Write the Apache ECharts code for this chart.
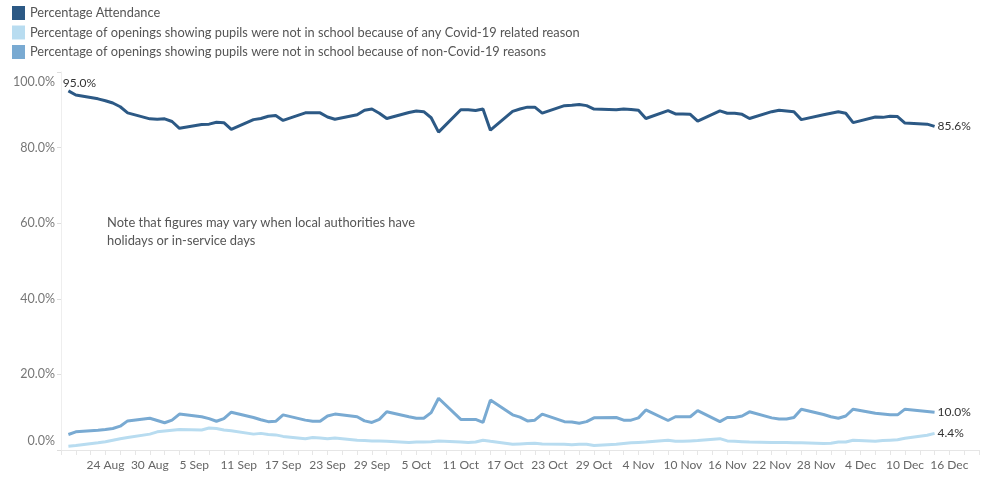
<!DOCTYPE html>
<html>
<head>
<meta charset="utf-8">
<script src="https://cdn.jsdelivr.net/npm/echarts@6/dist/echarts.min.js"></script>
<style>
  html, body { margin: 0; padding: 0; background: #ffffff; }
  #chart { width: 982px; height: 477px; }
</style>
</head>
<body>
<div id="chart"></div>
<script>
// school days (2021), one value per day for each series
const dates = [
  '2021-08-19', '2021-08-20',
  '2021-08-23', '2021-08-24', '2021-08-25', '2021-08-26', '2021-08-27',
  '2021-08-30', '2021-08-31', '2021-09-01', '2021-09-02', '2021-09-03',
  '2021-09-06', '2021-09-07', '2021-09-08', '2021-09-09', '2021-09-10',
  '2021-09-13', '2021-09-14', '2021-09-15', '2021-09-16', '2021-09-17',
  '2021-09-20', '2021-09-21', '2021-09-22', '2021-09-23', '2021-09-24',
  '2021-09-27', '2021-09-28', '2021-09-29', '2021-09-30', '2021-10-01',
  '2021-10-04', '2021-10-05', '2021-10-06', '2021-10-07', '2021-10-08',
  '2021-10-11', '2021-10-12', '2021-10-13', '2021-10-14', '2021-10-15',
  '2021-10-18', '2021-10-19', '2021-10-20', '2021-10-21', '2021-10-22',
  '2021-10-25', '2021-10-26', '2021-10-27', '2021-10-28', '2021-10-29',
  '2021-11-01', '2021-11-02', '2021-11-03', '2021-11-04', '2021-11-05',
  '2021-11-08', '2021-11-09', '2021-11-10', '2021-11-11', '2021-11-12',
  '2021-11-15', '2021-11-16', '2021-11-17', '2021-11-18', '2021-11-19',
  '2021-11-22', '2021-11-23', '2021-11-24', '2021-11-25', '2021-11-26',
  '2021-11-29', '2021-11-30', '2021-12-01', '2021-12-02', '2021-12-03',
  '2021-12-06', '2021-12-07', '2021-12-08', '2021-12-09', '2021-12-10',
  '2021-12-13', '2021-12-14'
]

const attendance = [
  95.0, 93.9,
  92.9, 92.4, 91.8, 90.8, 89.2,
  87.6, 87.5, 87.6, 86.9, 85.1,
  86.1, 86.2, 86.7, 86.6, 84.8,
  87.4, 87.7, 88.3, 88.5, 87.2,
  89.2, 89.2, 89.2, 88.1, 87.5,
  88.7, 89.9, 90.2, 89.1, 87.7,
  89.3, 89.7, 89.5, 87.9, 84.1,
  90.0, 90.0, 89.8, 90.2, 84.6,
  89.6, 90.2, 90.7, 90.7, 89.1,
  91.1, 91.2, 91.4, 91.1, 90.2,
  90.0, 90.2, 90.1, 89.9, 87.7,
  89.8, 88.9, 88.9, 88.8, 87.0,
  89.7, 89.1, 89.1, 88.8, 87.7,
  89.5, 89.9, 89.7, 89.5, 87.4,
  88.7, 89.1, 89.5, 89.1, 86.6,
  88.1, 88.0, 88.3, 88.2, 86.5,
  86.2, 85.6
]

const covidAbsence = [
  1.0, 1.2,
  1.9, 2.2, 2.6, 3.0, 3.3,
  4.2, 4.8, 5.0, 5.2, 5.4,
  5.3, 5.8, 5.7, 5.3, 5.1,
  4.2, 4.4, 4.1, 4.0, 3.6,
  3.0, 3.3, 3.2, 3.0, 3.2,
  2.6, 2.5, 2.4, 2.4, 2.3,
  2.0, 2.1, 2.1, 2.2, 2.4,
  2.1, 2.0, 2.1, 2.6, 2.3,
  1.5, 1.6, 1.7, 1.8, 1.6,
  1.5, 1.4, 1.5, 1.5, 1.2,
  1.5, 1.7, 1.9, 2.0, 2.1,
  2.6, 2.3, 2.3, 2.4, 2.5,
  3.0, 2.4, 2.3, 2.2, 2.1,
  2.0, 2.0, 2.0, 1.9, 1.9,
  1.7, 1.8, 2.1, 2.1, 2.6,
  2.3, 2.5, 2.6, 2.7, 3.1,
  3.9, 4.4
]

const nonCovidAbsence = [
  4.1, 4.8,
  5.2, 5.4, 5.7, 6.3, 7.7,
  8.4, 7.8, 7.2, 7.9, 9.5,
  8.8, 8.3, 7.6, 8.3, 10.0,
  8.6, 8.0, 7.5, 7.6, 9.3,
  7.9, 7.6, 7.6, 9.0, 9.5,
  8.8, 7.7, 7.3, 8.1, 10.1,
  8.8, 8.4, 8.4, 9.9, 13.7,
  8.1, 8.1, 8.1, 7.3, 13.2,
  9.3, 8.7, 7.7, 7.9, 9.5,
  7.5, 7.4, 7.1, 7.5, 8.5,
  8.6, 7.9, 7.9, 8.5, 10.6,
  7.8, 8.8, 8.8, 8.8, 10.4,
  7.5, 8.6, 8.6, 9.0, 10.1,
  8.5, 8.2, 8.2, 8.6, 10.8,
  9.4, 8.8, 8.4, 9.0, 10.8,
  9.7, 9.5, 9.3, 9.3, 10.8,
  10.2, 10.0
]

const seriesNames = [
  'Percentage Attendance',
  'Percentage of openings showing pupils were not in school because of any Covid-19 related reason',
  'Percentage of openings showing pupils were not in school because of non-Covid-19 reasons'
]
const seriesColors = ['#2c5985', '#b8dcf0', '#79aad2']

const noteText = 'Note that figures may vary when local authorities have\nholidays or in-service days'

// x axis runs from 18 Aug to 20 Dec, in days
const axisStart = '2021-08-18'
const axisEnd = '2021-12-20'
const monthNames = ['Jan', 'Feb', 'Mar', 'Apr', 'May', 'Jun', 'Jul', 'Aug', 'Sep', 'Oct', 'Nov', 'Dec']

const DAY = 86400000
const toDay = s => Math.round((Date.parse(s) - Date.parse(axisStart)) / DAY)
const dayLabel = d => {
  const dt = new Date(Date.parse(axisStart) + d * DAY)
  return dt.getUTCDate() + ' ' + monthNames[dt.getUTCMonth()]
}

const FONT = 'Lato, "Open Sans", sans-serif'
const pct = v => v.toFixed(1) + '%'

const toPoints = values => dates.map((d, i) => [toDay(d), values[i]])

const chart = echarts.init(document.getElementById('chart'))

const endLabel = {
  show: true,
  formatter: p => pct(p.value[1]),
  color: '#333',
  fontSize: 12,
  fontFamily: FONT,
  distance: 3
}

const option = {
  backgroundColor: '#ffffff',
  animation: false,
  textStyle: { fontFamily: FONT },
  legend: {
    orient: 'vertical',
    left: 7,
    top: 1,
    icon: 'rect',
    itemWidth: 13,
    itemHeight: 14,
    itemGap: 5.5,
    data: seriesNames,
    textStyle: { color: '#555', fontSize: 12.8, fontFamily: FONT }
  },
  grid: { left: 61, right: 1, top: 72, bottom: 27, containLabel: false },
  graphic: [{
    type: 'text',
    left: 107,
    top: 214,
    style: { text: noteText, fill: '#555', fontSize: 12.9, fontFamily: FONT, lineHeight: 18 }
  }],
  xAxis: {
    type: 'value',
    min: 0,
    max: toDay(axisEnd),
    interval: 2,
    axisLine: { show: true, lineStyle: { color: '#e6e6e6' } },
    axisTick: { show: true, length: 5, lineStyle: { color: '#e6e6e6' } },
    splitLine: { show: false },
    axisLabel: {
      color: '#666',
      fontSize: 12,
      fontFamily: FONT,
      margin: 9,
      formatter: v => (v >= 6 && v % 6 === 0 ? dayLabel(v) : '')
    }
  },
  yAxis: {
    type: 'value',
    min: 0,
    max: 100,
    interval: 20,
    axisLine: { show: true, lineStyle: { color: '#eeeeee' } },
    axisTick: { show: true, length: 4, lineStyle: { color: '#dddddd' } },
    splitLine: { show: false },
    axisLabel: {
      color: '#777',
      fontSize: 12.5,
      fontFamily: FONT,
      margin: 6,
      // edge labels sit inside the plot, like the original
      formatter: v => (v === 0 ? '{b|' + pct(v) + '}' : v === 100 ? '{t|' + pct(v) + '}' : pct(v)),
      rich: {
        b: { color: '#777', fontSize: 12.5, fontFamily: FONT, padding: [0, 0, 18, 0] },
        t: { color: '#777', fontSize: 12.5, fontFamily: FONT, padding: [19, 0, 0, 0] }
      }
    }
  },
  series: [
    {
      name: seriesNames[0],
      type: 'line',
      data: toPoints(attendance),
      showSymbol: false,
      lineStyle: { width: 3, color: seriesColors[0] },
      itemStyle: { color: seriesColors[0] },
      endLabel: endLabel,
      markPoint: {
        symbol: 'circle',
        symbolSize: 1,
        itemStyle: { color: 'rgba(0,0,0,0)' },
        label: {
          show: true,
          position: 'top',
          distance: 1,
          offset: [11, 0],
          color: '#333',
          fontSize: 12,
          fontFamily: FONT,
          formatter: p => pct(p.value)
        },
        data: [{ coord: [toDay(dates[0]), attendance[0]], value: attendance[0] }]
      },
      z: 4
    },
    {
      name: seriesNames[1],
      type: 'line',
      data: toPoints(covidAbsence),
      showSymbol: false,
      lineStyle: { width: 3, color: seriesColors[1] },
      itemStyle: { color: seriesColors[1] },
      endLabel: endLabel,
      z: 2
    },
    {
      name: seriesNames[2],
      type: 'line',
      data: toPoints(nonCovidAbsence),
      showSymbol: false,
      lineStyle: { width: 3, color: seriesColors[2] },
      itemStyle: { color: seriesColors[2] },
      endLabel: endLabel,
      z: 3
    }
  ]
}

chart.setOption(option)
</script>
</body>
</html>
